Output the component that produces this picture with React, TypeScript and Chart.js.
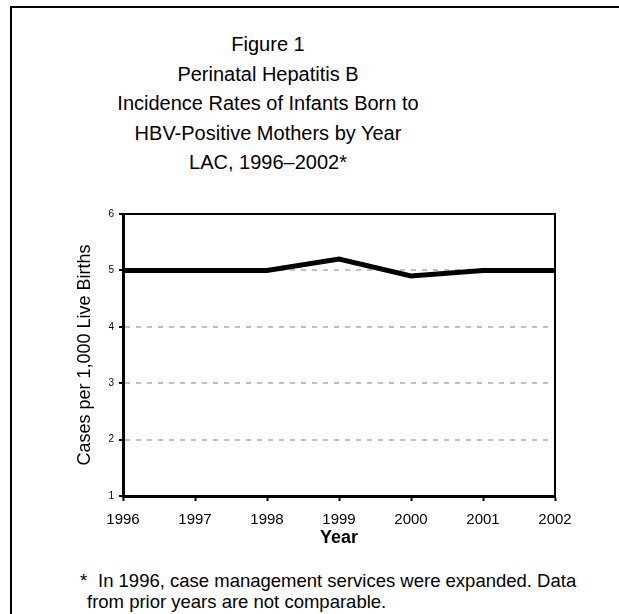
import React, { useEffect, useRef } from "react";
import { Chart, registerables } from "chart.js";

Chart.register(...registerables);

const years = ["1996", "1997", "1998", "1999", "2000", "2001", "2002"];
const rates = [5.0, 5.0, 5.0, 5.2, 4.9, 5.0, 5.0];
const yMin = 1;
const yMax = 6;
const titleLines = [
  "Figure 1",
  "Perinatal Hepatitis B",
  "Incidence Rates of Infants Born to",
  "HBV-Positive Mothers by Year",
  "LAC, 1996–2002*",
];
const yAxisTitle = "Cases per 1,000 Live Births";
const xAxisTitle = "Year";
const footnoteFirst = "In 1996, case management services were expanded. Data";
const footnoteSecond = "from prior years are not comparable.";

const FONT = "'Liberation Sans', Arial, Helvetica, sans-serif";

const framePlugin = {
  id: "frame",
  afterDatasetsDraw(chart: any) {
    const { ctx, chartArea } = chart;
    const { left, right, top, bottom } = chartArea;
    ctx.save();
    ctx.strokeStyle = "#000";
    ctx.lineWidth = 2;
    ctx.beginPath();
    ctx.moveTo(left, top);
    ctx.lineTo(right, top);
    ctx.lineTo(right, bottom);
    ctx.stroke();
    ctx.restore();
  },
};

export default function App() {
  const ref = useRef<HTMLCanvasElement | null>(null);

  useEffect(() => {
    if (!ref.current) return;
    const chart = new Chart(ref.current, {
      type: "line",
      data: {
        labels: years,
        datasets: [
          {
            data: rates,
            borderColor: "#000",
            borderWidth: 5,
            pointRadius: 0,
            tension: 0,
            fill: false,
          },
        ],
      },
      options: {
        animation: false,
        responsive: false,
        devicePixelRatio: 1,
        layout: { padding: { left: 60, right: 64, top: 24, bottom: 0 } },
        plugins: {
          legend: { display: false },
          tooltip: { enabled: false },
          title: { display: false },
        },
        scales: {
          x: {
            offset: false,
            afterFit: (s: any) => {
              s.height = 74;
            },
            grid: {
              drawOnChartArea: false,
              drawTicks: true,
              tickLength: 5,
              tickColor: "#000",
              tickWidth: 2,
            },
            border: { display: true, color: "#000", width: 3 },
            ticks: {
              color: "#000",
              padding: 10,
              maxRotation: 0,
              font: { family: FONT, size: 15 },
            },
            title: {
              display: true,
              text: xAxisTitle,
              color: "#000",
              font: { family: FONT, size: 18, weight: "bold" },
              padding: { top: 0, bottom: 21 },
            },
          },
          y: {
            min: yMin,
            max: yMax,
            afterFit: (s: any) => {
              s.width = 63;
            },
            grid: {
              color: (c: any) =>
                c.tick && (c.tick.value === yMin || c.tick.value === yMax)
                  ? "rgba(0,0,0,0)"
                  : "#c0c0c0",
              lineWidth: 2,
              tickLength: 4,
              tickColor: "#000",
              tickWidth: 2,
            },
            border: { display: true, color: "#000", width: 3, dash: [5, 6] },
            ticks: {
              stepSize: 1,
              color: "#000",
              padding: 5,
              font: { family: FONT, size: 10 },
            },
            title: {
              display: true,
              text: yAxisTitle,
              color: "#000",
              font: { family: FONT, size: 18 },
              padding: { top: 14, bottom: 0 },
            },
          },
        },
      },
      plugins: [framePlugin],
    });
    return () => chart.destroy();
  }, []);

  return (
    <div
      style={{
        position: "fixed",
        left: 0,
        top: 0,
        width: 619,
        height: 614,
        overflow: "hidden",
        background: "#fff",
        fontFamily: FONT,
        color: "#000",
      }}
    >
      <div
        style={{
          position: "absolute",
          left: 10,
          top: 6,
          width: 700,
          height: 700,
          border: "2px solid #000",
          boxSizing: "border-box",
        }}
      />
      <div
        style={{
          position: "absolute",
          left: 0,
          top: 30,
          width: 536,
          textAlign: "center",
          fontSize: 20,
          lineHeight: "29.5px",
        }}
      >
        {titleLines.map((t) => (
          <div key={t}>{t}</div>
        ))}
      </div>
      <canvas
        ref={ref}
        width={619}
        height={380}
        style={{ position: "absolute", left: 0, top: 190, width: 619, height: 380 }}
      />
      <div
        style={{
          position: "absolute",
          left: 80,
          top: 570,
          fontSize: 18.5,
          lineHeight: "21px",
          whiteSpace: "nowrap",
        }}
      >
        <div style={{ position: "relative", paddingLeft: 18 }}>
          <span style={{ position: "absolute", left: 0 }}>*</span>
          {footnoteFirst}
        </div>
        <div style={{ paddingLeft: 7 }}>{footnoteSecond}</div>
      </div>
    </div>
  );
}
